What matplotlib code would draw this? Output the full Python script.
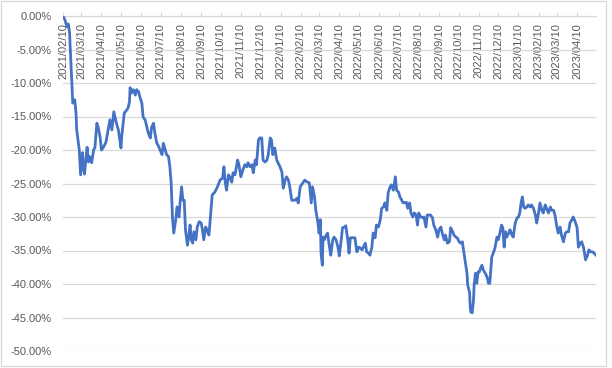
"""
Drawdown curve, Excel-style: date axis sitting on the 0% line at the top,
rotated monthly labels inside the plot, light horizontal gridlines.
Values read off the reference picture.
"""
import numpy as np
import pandas as pd
import matplotlib
matplotlib.use("Agg")
import matplotlib.pyplot as plt
import matplotlib.dates as mdates
from matplotlib.ticker import FuncFormatter, MultipleLocator
from matplotlib.patches import Rectangle

plt.rcParams["font.family"] = ["Liberation Sans", "DejaVu Sans"]
plt.rcParams["axes.unicode_minus"] = False

START = "2021-02-10"

# days since START
day_offset = [
    0, 3, 6, 8, 10, 12, 15, 18, 20, 21, 23, 25, 27, 30, 31, 33, 35, 37, 39, 41,
    44, 47, 49, 52, 54, 57, 59, 62, 66, 70, 72, 75, 78, 82, 85, 89, 90, 94, 98, 100,
    102, 103, 105, 108, 111, 113, 116, 118, 121, 123, 126, 128, 131, 134, 136, 139, 141, 144, 146, 149,
    152, 154, 157, 159, 162, 164, 166, 167, 168, 170, 173, 175, 178, 180, 182, 184, 186, 188, 191, 193,
    195, 197, 199, 201, 204, 206, 209, 212, 214, 216, 219, 221, 224, 227, 229, 233, 237, 241, 245, 247,
    249, 251, 254, 256, 259, 261, 264, 268, 270, 273, 276, 279, 282, 284, 287, 290, 292, 295, 297, 300,
    302, 305, 307, 310, 313, 315, 318, 320, 322, 325, 328, 330, 333, 336, 338, 341, 343, 346, 348, 351,
    356, 359, 361, 364, 366, 371, 375, 378, 381, 383, 386, 388, 391, 393, 395, 396, 398, 399, 401, 404,
    406, 409, 411, 414, 416, 419, 422, 424, 427, 429, 432, 434, 437, 439, 441, 446, 448, 451, 454, 456,
    459, 461, 464, 466, 469, 471, 474, 476, 479, 481, 484, 487, 489, 492, 494, 497, 499, 502, 504, 507,
    510, 512, 515, 517, 520, 522, 527, 529, 532, 534, 537, 539, 542, 544, 546, 549, 552, 554, 557, 559,
    562, 564, 567, 569, 572, 575, 577, 580, 582, 585, 587, 590, 593, 595, 598, 600, 603, 605, 608, 610,
    613, 614, 617, 620, 621, 624, 625, 626, 628, 630, 631, 633, 635, 637, 639, 641, 643, 645, 648, 651,
    653, 655, 658, 661, 663, 666, 668, 671, 673, 675, 677, 679, 681, 684, 686, 689, 691, 694, 697, 699,
    701, 703, 705, 707, 709, 712, 714, 717, 719, 722, 725, 727, 730, 732, 735, 737, 740, 742, 745, 748,
    750, 753, 755, 758, 760, 763, 765, 768, 771, 773, 776, 778, 781, 783, 786, 789, 791, 794, 796, 799,
    802, 805, 807, 810, 813, 815, 818,
]

# drawdown in percent
drawdown = [
    0.0, -0.6, -1.6, -1.2, -2.4, -6.6, -13.0, -12.5, -14.5, -17.0, -18.5, -20.0, -23.7, -20.4, -22.5, -23.6, -21.5, -19.6, -21.8, -21.0,
    -21.9, -20.0, -19.6, -16.0, -16.6, -18.1, -20.0, -19.6, -18.8, -16.6, -15.5, -17.0, -14.3, -16.0, -17.0, -19.7, -18.1, -14.5, -14.0, -13.7,
    -12.8, -10.7, -11.5, -11.0, -11.8, -11.0, -11.3, -12.1, -13.0, -15.1, -15.5, -16.3, -17.5, -18.2, -16.6, -16.0, -17.5, -19.0, -19.3, -20.0,
    -20.7, -19.0, -20.0, -20.7, -21.0, -22.5, -24.9, -27.5, -30.1, -32.4, -30.4, -28.5, -30.0, -27.5, -25.5, -27.5, -27.5, -31.9, -34.2, -33.0,
    -31.2, -33.4, -33.9, -32.2, -33.4, -31.5, -30.7, -30.9, -31.9, -33.4, -31.5, -31.9, -32.7, -29.0, -26.7, -26.3, -25.5, -24.5, -24.2, -22.5,
    -24.9, -26.0, -23.7, -24.0, -24.8, -23.4, -23.7, -21.5, -22.2, -24.0, -23.0, -22.2, -22.5, -21.9, -22.5, -22.2, -23.4, -21.5, -22.2, -18.5,
    -18.2, -18.2, -21.5, -21.8, -21.5, -20.7, -18.2, -18.5, -20.7, -19.7, -21.5, -21.9, -22.5, -23.3, -25.7, -24.5, -24.0, -24.5, -25.5, -27.5,
    -27.5, -27.2, -27.9, -25.5, -25.2, -24.5, -24.8, -24.9, -27.9, -25.5, -27.0, -29.0, -30.7, -32.4, -30.4, -35.4, -37.2, -33.0, -33.4, -32.7,
    -32.4, -34.5, -35.7, -33.4, -33.0, -33.4, -34.5, -35.8, -33.4, -31.6, -31.5, -31.3, -33.4, -35.4, -33.1, -33.1, -33.1, -35.2, -34.5, -34.6,
    -34.9, -34.5, -33.9, -35.2, -35.4, -35.7, -34.5, -32.4, -33.1, -31.2, -31.5, -30.4, -28.7, -28.5, -27.9, -29.0, -26.4, -25.5, -25.2, -26.0,
    -24.0, -26.0, -26.3, -27.0, -27.5, -27.9, -27.8, -28.7, -27.9, -29.4, -30.0, -29.4, -29.7, -31.2, -29.4, -30.0, -30.1, -30.0, -31.5, -29.7,
    -29.7, -29.7, -30.1, -31.2, -31.9, -33.0, -31.9, -31.5, -32.4, -33.4, -32.7, -33.9, -33.7, -31.6, -32.2, -32.7, -33.0, -33.1, -33.7, -33.9,
    -33.7, -34.5, -36.4, -38.4, -40.1, -41.3, -43.6, -44.2, -44.3, -42.4, -40.1, -38.4, -39.9, -38.2, -38.2, -37.6, -37.2, -37.9, -38.4, -39.0,
    -39.9, -39.9, -36.0, -35.2, -34.6, -33.0, -33.4, -32.2, -31.2, -31.6, -34.5, -32.2, -33.0, -32.4, -31.9, -32.7, -33.0, -30.9, -30.1, -30.0,
    -29.4, -27.9, -27.0, -28.5, -28.7, -28.5, -28.2, -28.5, -28.2, -28.7, -29.7, -30.9, -29.3, -27.9, -29.0, -29.4, -28.2, -28.7, -29.4, -28.5,
    -29.0, -29.0, -29.7, -31.5, -32.4, -31.5, -32.7, -33.7, -32.4, -32.2, -32.2, -30.9, -30.4, -30.0, -30.7, -31.6, -34.5, -33.9, -33.7, -34.6,
    -36.4, -35.7, -34.9, -35.2, -35.2, -35.4, -35.7,
]

LINE_COLOR = "#4472C4"
TEXT_COLOR = "#595959"
GRID_COLOR = "#D9D9D9"

dates = pd.to_datetime(START) + pd.to_timedelta(day_offset, unit="D")

fig = plt.figure(figsize=(6.12, 3.68), dpi=100)
ax = fig.add_axes([63 / 612, 1 - 351 / 368, (596 - 63) / 612, (351 - 16) / 368])

ax.plot(dates, drawdown, color=LINE_COLOR, lw=2.0, solid_joinstyle="round", zorder=3)

ax.set_xlim(dates[0], dates[-1])
ax.set_ylim(-50, 0)

# y axis: percent labels, no spine, no ticks
ax.yaxis.set_major_locator(MultipleLocator(5))
ax.yaxis.set_major_formatter(FuncFormatter(lambda v, _: f"{v:.2f}%"))
ax.tick_params(axis="y", length=0, pad=8, labelsize=8, labelcolor=TEXT_COLOR)
ax.grid(axis="y", color=GRID_COLOR, lw=0.9, zorder=0)
ax.set_axisbelow(True)

for side in ["left", "right", "top"]:
    ax.spines[side].set_visible(False)

# x axis crosses at 0% (the top), labels hang down into the plot
ax.spines["bottom"].set_position(("data", 0))
ax.spines["bottom"].set_color(GRID_COLOR)
ax.spines["bottom"].set_linewidth(0.9)
ax.xaxis.set_major_locator(mdates.MonthLocator(bymonthday=10))
ax.xaxis.set_major_formatter(mdates.DateFormatter("%Y/%m/%d"))
ax.tick_params(axis="x", direction="in", length=3, color=GRID_COLOR, pad=5,
               labelsize=8, labelcolor=TEXT_COLOR, labelrotation=90)

# chart area border
fig.patches.append(Rectangle((1 / 612, 2 / 368), 605 / 612, 365 / 368,
                             transform=fig.transFigure, fill=False,
                             edgecolor=GRID_COLOR, lw=1.0))

fig.savefig("out.png", dpi=100)
